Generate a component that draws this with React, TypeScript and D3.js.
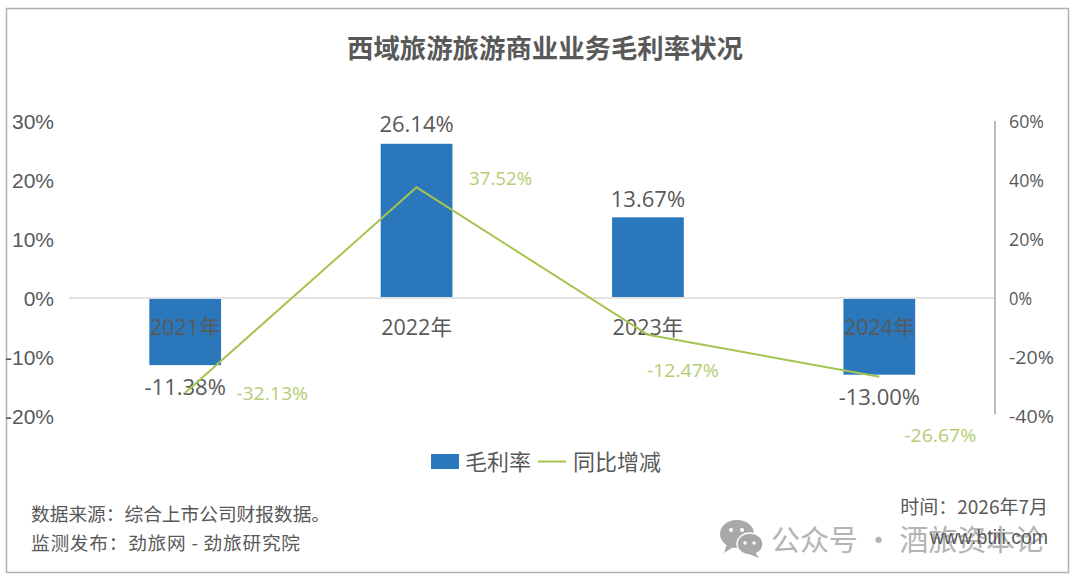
import React from "react";
import * as d3 from "d3";

const categories = ["2021年", "2022年", "2023年", "2024年"];
const margin = [-11.38, 26.14, 13.67, -13.0];
const yoy = [-32.13, 37.52, -12.47, -26.67];
const leftTicks = [30, 20, 10, 0, -10, -20];
const rightTicks = [60, 40, 20, 0, -20, -40];
const legendNames = ["毛利率", "同比增减"];
const titleText = "西域旅游旅游商业业务毛利率状况";
const sourceLines = ["数据来源：综合上市公司财报数据。", "监测发布：劲旅网 - 劲旅研究院"];
const dateText = "时间：2026年7月";
const siteText = "www.btiii.com";
const watermarkText = "公众号 · 酒旅资本论";

const CJK = "'Noto Sans CJK SC', sans-serif";
const LATIN = "'Liberation Sans', Arial, sans-serif";
const LABEL = "'Open Sans', 'Noto Sans CJK SC', sans-serif";
const GREY = "#595959";
const BLUE = "#2a78bb";
const GREEN = "#a5c44f";
const LABELGREEN = "#b4cd74";

const yL = d3.scaleLinear().domain([-20, 30]).range([416, 121]);
const yR = d3.scaleLinear().domain([-40, 60]).range([416, 121]);
const x = d3.scaleBand<string>().domain(categories).range([69.5, 995]).paddingInner(0.69).paddingOuter(0.345);
const cx = (c: string) => x(c)! + x.bandwidth() / 2;
const pct = (v: number) => d3.format(".2f")(v).replace("−", "-") + "%";

const lineGen = d3
  .line<number>()
  .x((_, i) => cx(categories[i]))
  .y((d) => yR(d));

const yoyLabelOffsets = [
  [87, 7],
  [84, -2],
  [35, 42],
  [61, 65],
];
const marginLabelOffsets = [30, -12, -10.5, 30];

export default function App() {
  return (
    <svg
      width={1080}
      height={584}
      viewBox="0 0 1080 584"
      style={{ position: "absolute", left: 0, top: 0, background: "#fff" }}
    >
      <rect x={6.5} y={8.5} width={1062} height={564} fill="#fff" stroke="#b0b0b0" strokeWidth={1.5} />
      <text x={545} y={57.5} textAnchor="middle" fontFamily={CJK} fontWeight={700} fontSize={26.4} fill={GREY}>
        {titleText}
      </text>

      {leftTicks.map((t) => (
        <text key={t} x={54} y={yL(t) + 7.5} textAnchor="end" fontFamily={LATIN} fontSize={21} fill={GREY}>
          {t}%
        </text>
      ))}
      {rightTicks.map((t) => (
        <text key={t} x={1009} y={yR(t) + 6.5} fontFamily={LABEL} fontSize={18} fill={GREY} textLength={t === 0 ? 23 : t < 0 ? 45 : 35} lengthAdjust="spacingAndGlyphs">
          {t}%
        </text>
      ))}

      <line x1={69} x2={995} y1={yL(0)} y2={yL(0)} stroke="#d9d9d9" strokeWidth={1.5} />
      <line x1={995} x2={995} y1={121} y2={414} stroke="#a6a6a6" strokeWidth={1.5} />

      {margin.map((v, i) => {
        const c = categories[i];
        const top = v >= 0 ? yL(v) : yL(0) + 1;
        const h = v >= 0 ? yL(0) - 1 - yL(v) : yL(v) - yL(0) - 1;
        return <rect key={c} x={x(c)} y={top} width={x.bandwidth()} height={h} fill={BLUE} />;
      })}

      {categories.map((c) => (
        <text key={c} x={cx(c)} y={335} textAnchor="middle" fontFamily={LABEL} fontSize={21.5} fill={GREY}>
          {c}
        </text>
      ))}

      {margin.map((v, i) => {
        const c = categories[i];
        return (
          <text key={c} x={cx(c)} y={yL(v) + marginLabelOffsets[i]} textAnchor="middle" fontFamily={LABEL} fontSize={22} fill={GREY}>
            {pct(v)}
          </text>
        );
      })}

      <path d={lineGen(yoy) ?? ""} fill="none" stroke={GREEN} strokeWidth={2} />

      {yoy.map((v, i) => {
        const [dx, dy] = yoyLabelOffsets[i];
        return (
          <text key={i} x={cx(categories[i]) + dx} y={yR(v) + dy} textAnchor="middle" fontFamily={LABEL} fontSize={18.5} fill={LABELGREEN} textLength={v < 0 ? 72 : 63} lengthAdjust="spacingAndGlyphs">
            {pct(v)}
          </text>
        );
      })}

      <rect x={431} y={454} width={28} height={15} fill={BLUE} />
      <text x={465} y={469.5} fontFamily={CJK} fontSize={22} fill={GREY}>{legendNames[0]}</text>
      <line x1={538} x2={566} y1={461.5} y2={461.5} stroke={GREEN} strokeWidth={2} />
      <text x={573} y={469.5} fontFamily={CJK} fontSize={22} fill={GREY}>{legendNames[1]}</text>

      <text x={31} y={521} fontFamily={CJK} fontSize={18.7} fill={GREY} textLength={299} lengthAdjust="spacing">{sourceLines[0]}</text>
      <text x={31} y={550} fontFamily={CJK} fontSize={18.7} fill={GREY} textLength={269} lengthAdjust="spacing">{sourceLines[1]}</text>

      <g fill="#a8a8a8">
        <ellipse cx={737} cy={534} rx={17} ry={14} />
        <path d="M727 544 L724 553 L735 546 Z" />
        <ellipse cx={750} cy={544} rx={13} ry={11} stroke="#fff" strokeWidth={1.5} />
        <path d="M755 552 L759 558 L749 554 Z" />
        <g fill="#fff">
          <circle cx={731} cy={530} r={2} />
          <circle cx={742} cy={530} r={2} />
          <circle cx={745} cy={543} r={1.7} />
          <circle cx={754} cy={543} r={1.7} />
        </g>
      </g>
      <text x={771} y={551} fontFamily={CJK} fontSize={29} fill="#b4b4b4" textLength={273} lengthAdjust="spacing">
        {watermarkText}
      </text>

      <text x={1048} y={514} textAnchor="end" fontFamily={CJK} fontSize={19} fill={GREY}>{dateText}</text>
      <text x={1048} y={544} textAnchor="end" fontFamily={LATIN} fontSize={19.5} fill={GREY}>{siteText}</text>
    </svg>
  );
}
